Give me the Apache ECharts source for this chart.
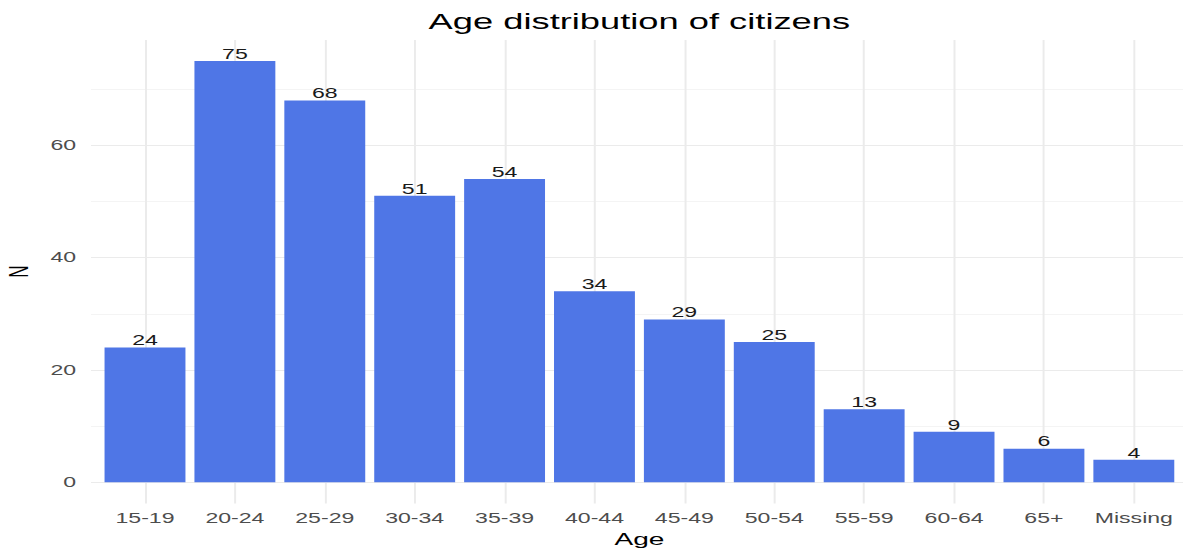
<!DOCTYPE html>
<html>
<head>
<meta charset="utf-8">
<script src="https://cdn.jsdelivr.net/npm/echarts@6/dist/echarts.min.js"></script>
<style>
  html, body { margin: 0; padding: 0; background: #fff; }
  #wrap { width: 1183px; height: 548px; overflow: hidden; position: relative; }
  #chart { width: 717px; height: 548px; transform: scaleX(1.64993); transform-origin: 0 0; }
</style>
</head>
<body>
<div id="wrap"><div id="chart"></div></div>
<script>
const categories = ['15-19', '20-24', '25-29', '30-34', '35-39', '40-44', '45-49', '50-54', '55-59', '60-64', '65+', 'Missing'];
const counts = [24, 75, 68, 51, 54, 34, 29, 25, 13, 9, 6, 4];
const yTickValues = [0, 20, 40, 60];
const yMinorValues = [10, 30, 50, 70];

const FONT = '"Liberation Sans", Arial, sans-serif';
const majorColor = '#EBEBEB';
const minorColor = '#F4F4F4';
const Y_MIN = -3.75, Y_MAX = 78.75;

const hLines = []
  .concat(yMinorValues.map(v => ({ yAxis: v, lineStyle: { color: minorColor, width: 0.8, type: 'solid' } })))
  .concat(yTickValues.map(v => ({ yAxis: v, lineStyle: { color: majorColor, width: 1.2, type: 'solid' } })));
const vLines = categories.map(c => ({ xAxis: c, lineStyle: { color: majorColor, width: 1.2, type: 'solid' } }));

const chart = echarts.init(document.getElementById('chart'), null, { renderer: 'svg' });
chart.setOption({
  animation: false,
  backgroundColor: '#ffffff',
  textStyle: { fontFamily: FONT },
  title: {
    text: 'Age distribution of citizens',
    left: 387.5,
    top: 10,
    padding: 0,
    textAlign: 'center',
    textStyle: { fontFamily: FONT, fontSize: 22, fontWeight: 'normal', color: '#000000' }
  },
  grid: [
    { left: 55.15, top: 40, width: 664.6, height: 463.4, containLabel: false, outerBoundsMode: 'none' },
    { left: 60.64, top: 40, width: 653.8, height: 463.4, containLabel: false, outerBoundsMode: 'none' }
  ],
  xAxis: [
    { gridIndex: 0, type: 'value', min: 0, max: 1, show: false },
    {
      gridIndex: 1,
      type: 'category',
      data: categories,
      name: 'Age',
      nameLocation: 'middle',
      nameGap: 23,
      nameTextStyle: { fontFamily: FONT, fontSize: 17, color: '#000000' },
      axisLine: { show: false, onZero: false },
      axisTick: { show: false },
      splitLine: { show: false },
      axisLabel: { fontFamily: FONT, fontSize: 14, color: '#4D4D4D', margin: 8, interval: 0 }
    }
  ],
  yAxis: [
    {
      gridIndex: 0,
      type: 'value',
      min: Y_MIN,
      max: Y_MAX,
      name: 'N',
      nameLocation: 'middle',
      nameGap: 28,
      nameTextStyle: { fontFamily: FONT, fontSize: 17, color: '#000000' },
      axisLine: { show: false },
      axisTick: { show: false },
      splitLine: { show: false },
      axisLabel: { fontFamily: FONT, fontSize: 14, color: '#4D4D4D', margin: 9, customValues: yTickValues }
    },
    { gridIndex: 1, type: 'value', min: Y_MIN, max: Y_MAX, show: false, splitLine: { show: false } }
  ],
  series: [
    {
      type: 'line',
      xAxisIndex: 0,
      yAxisIndex: 0,
      z: 1,
      silent: true,
      data: [[0, 0]],
      showSymbol: false,
      lineStyle: { opacity: 0 },
      markLine: {
        silent: true,
        z: 1,
        symbol: ['none', 'none'],
        label: { show: false },
        animation: false,
        data: hLines
      }
    },
    {
      type: 'line',
      xAxisIndex: 1,
      yAxisIndex: 1,
      z: 1,
      silent: true,
      data: categories.map(() => null),
      showSymbol: false,
      lineStyle: { opacity: 0 },
      markLine: {
        silent: true,
        z: 1,
        symbol: ['none', 'none'],
        label: { show: false },
        animation: false,
        data: vLines
      }
    },
    {
      type: 'bar',
      xAxisIndex: 1,
      yAxisIndex: 1,
      z: 3,
      data: counts,
      barCategoryGap: '10%',
      itemStyle: { color: '#4F76E6' },
      label: {
        show: true,
        position: 'top',
        distance: 0,
        fontFamily: FONT,
        fontSize: 14,
        color: '#1A1A1A'
      }
    }
  ]
});
</script>
</body>
</html>
